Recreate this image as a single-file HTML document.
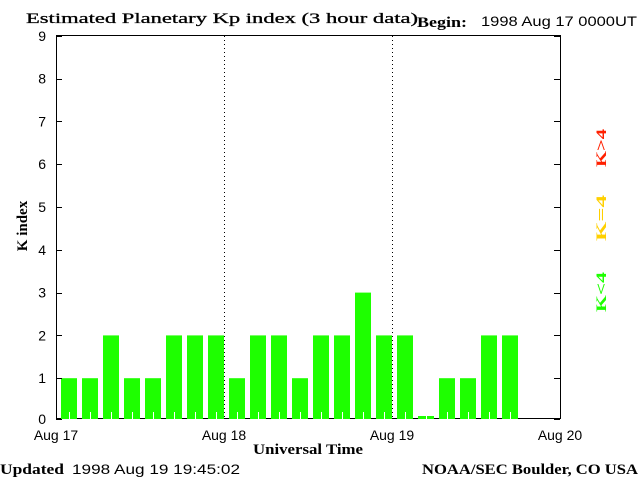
<!DOCTYPE html>
<html><head><meta charset="utf-8"><style>
body{margin:0;background:#fff;}
svg{display:block;}
.t{font-family:"Liberation Sans",sans-serif;font-size:14px;fill:#000;}
.s{font-family:"Liberation Serif",serif;font-size:15px;font-weight:bold;fill:#000;}
</style></head><body>
<svg id="c" width="640" height="480">
<text class="s" x="26" y="23" font-size="16" font-weight="normal" textLength="392" lengthAdjust="spacingAndGlyphs" style="font-weight:normal;stroke:#000;stroke-width:0.3">Estimated Planetary Kp index (3 hour data)</text>
<text class="s" x="417" y="27" font-size="14" textLength="50" lengthAdjust="spacingAndGlyphs">Begin:</text>
<text class="t" x="481" y="26" textLength="156" lengthAdjust="spacingAndGlyphs">1998 Aug 17 0000UT</text>
<rect x="56.5" y="35.5" width="504" height="383" fill="none" stroke="#000"/>
<g id="grid"></g><g id="bars"></g><g id="axes"></g>
<text class="s" x="27" y="226" text-anchor="middle" transform="rotate(-90 27 226)">K index</text>
<text class="s" x="253" y="454" font-size="14" textLength="110" lengthAdjust="spacingAndGlyphs">Universal Time</text>
<text class="s" x="0" y="474" font-size="15" textLength="64" lengthAdjust="spacingAndGlyphs">Updated</text>
<text class="t" x="72" y="474" textLength="168" lengthAdjust="spacingAndGlyphs">1998 Aug 19 19:45:02</text>
<text class="s" x="422" y="474" font-size="14" textLength="216" lengthAdjust="spacingAndGlyphs">NOAA/SEC Boulder, CO USA</text>
<text class="s" x="606" y="148" text-anchor="middle" font-size="18" textLength="38" lengthAdjust="spacingAndGlyphs" transform="rotate(-90 606 148)" style="fill:#ff2000">K&gt;4</text>
<text class="s" x="606" y="218" text-anchor="middle" font-size="18" textLength="46" lengthAdjust="spacingAndGlyphs" transform="rotate(-90 606 218)" style="fill:#ffd000">K=4</text>
<text class="s" x="606" y="292" text-anchor="middle" font-size="18" textLength="40" lengthAdjust="spacingAndGlyphs" transform="rotate(-90 606 292)" style="fill:#1eff00">K&lt;4</text>
</svg>
<script>
const kpValues=[1,1,2,1,1,2,2,2,1,2,2,1,2,2,3,2,2,0,1,1,2,2];
const yTicks=[0,1,2,3,4,5,6,7,8,9];
const dayLabels=["Aug 17","Aug 18","Aug 19","Aug 20"];
const NS="http://www.w3.org/2000/svg";
const x0=56,dayW=168,slot=21,base=419;
function xDay(d){return x0+d*dayW;}
function xSlot(i){return x0+i*slot;}
function yv(v){return 421-42.8*v;}
function mk(tag,at,parent){const e=document.createElementNS(NS,tag);for(const k in at)e.setAttribute(k,at[k]);document.getElementById(parent).appendChild(e);return e;}
kpValues.forEach((v,i)=>{
  const col=v>4?"#ff2000":(v==4?"#ffd000":"#1eff00");
  let top=Math.min(yv(v),base-3);
  const r=mk("rect",{x:xSlot(i)+5,y:top,width:16,height:base-top,fill:col},"bars");
  
  
  const m=mk("line",{x1:xSlot(i)+13.5,x2:xSlot(i)+13.5,y1:Math.max(top,412),y2:base,stroke:"#fff"},"bars");
  
  
});
yTicks.forEach(v=>{
  const y=Math.min(yv(v),base);
  const t=mk("text",{x:46,y:y+5,"text-anchor":"end",class:"t"},"axes");t.textContent=v;
  
  
  mk("line",{x1:56,x2:62,y1:Math.round(y)+.5,y2:Math.round(y)+.5,stroke:"#000"},"axes");
  mk("line",{x1:554,x2:560,y1:Math.round(y)+.5,y2:Math.round(y)+.5,stroke:"#000"},"axes");
});
dayLabels.forEach((d,i)=>{
  const t=mk("text",{x:xDay(i),y:440,"text-anchor":"middle",class:"t"},"axes");t.textContent=d;
  
  
  if(i>0&&i<dayLabels.length-1){
    const g=mk("line",{x1:xDay(i)+.5,x2:xDay(i)+.5,y1:36,y2:418,stroke:"#000","stroke-dasharray":"1,3"},"grid");
    
    
  }
});
</script>
</body></html>
